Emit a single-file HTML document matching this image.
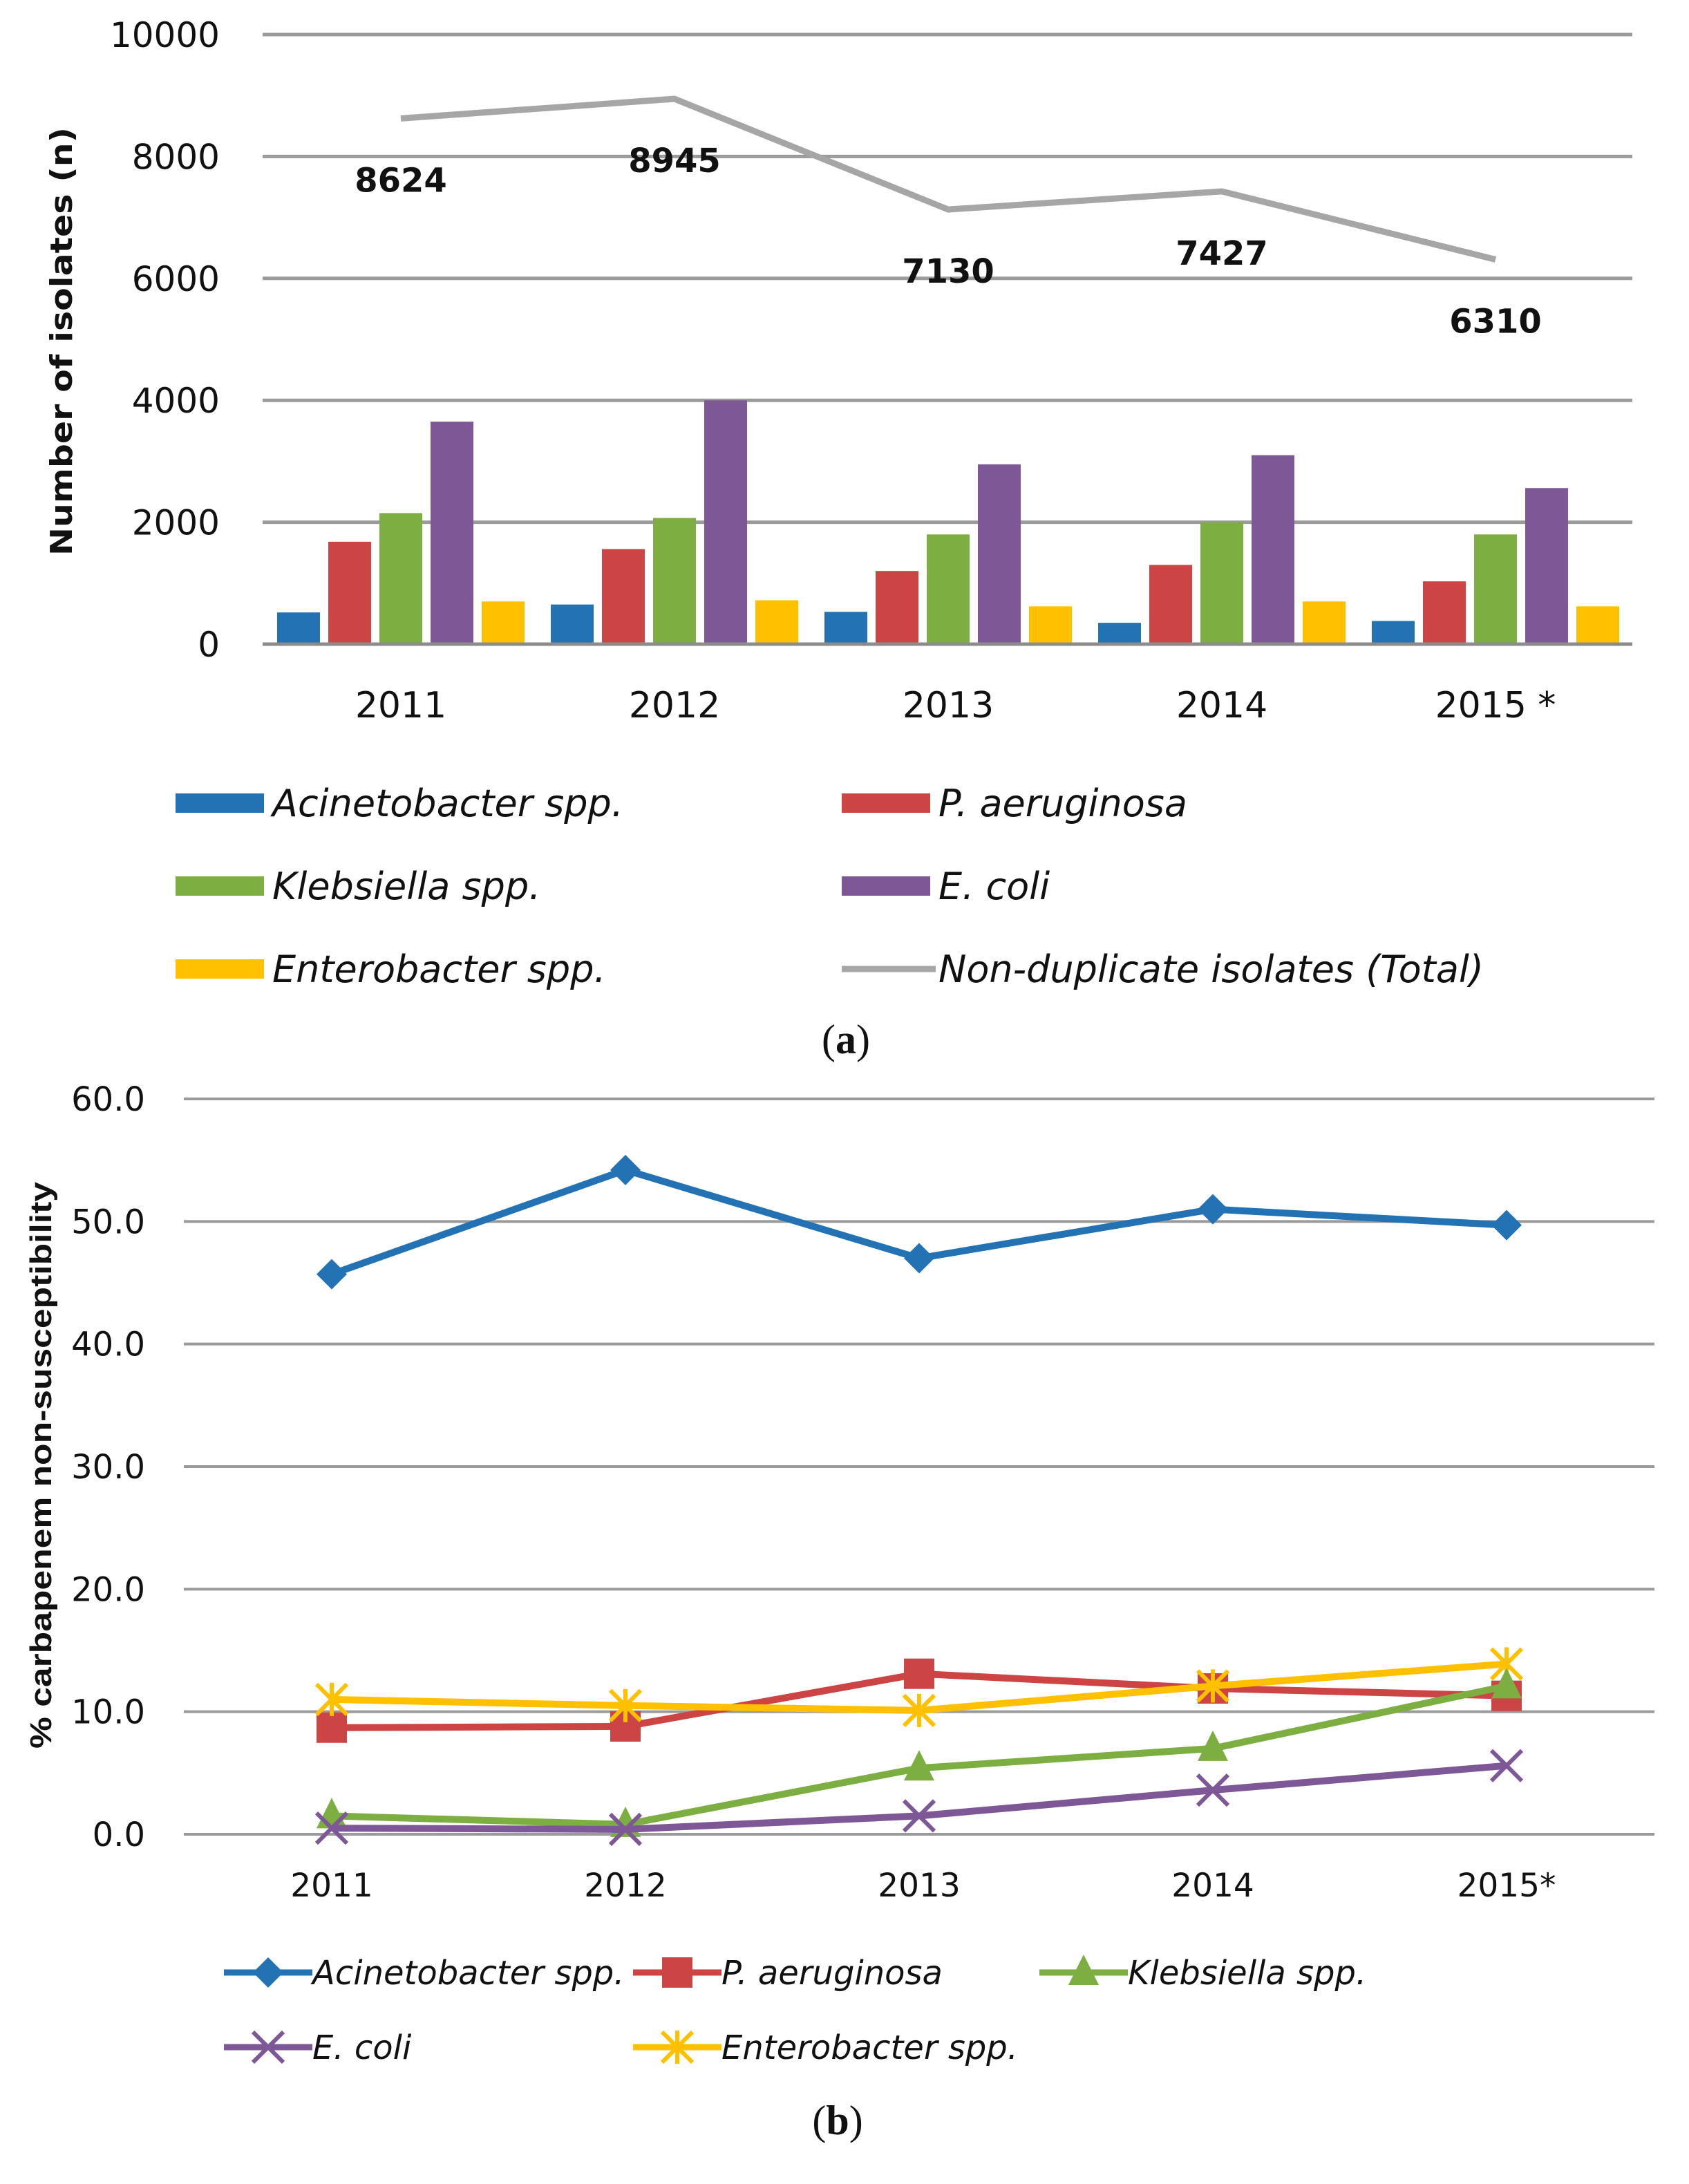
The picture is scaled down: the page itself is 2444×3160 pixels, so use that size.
<!DOCTYPE html>
<html><head><meta charset="utf-8">
<style>
html,body{margin:0;padding:0;background:#fff;}
svg{display:block;}
text{font-family:"DejaVu Sans","Liberation Sans",sans-serif;fill:#111;}
</style></head>
<body>
<svg id="fig" width="2444" height="3160" viewBox="0 0 2444 3160" xmlns="http://www.w3.org/2000/svg">
<g id="chartA"></g>
<g id="chartB"></g>
</svg>
<script>
const yearsA = ["2011","2012","2013","2014","2015 *"];
const acinA = [520, 650, 530, 350, 380];
const paerA = [1680, 1560, 1200, 1300, 1030];
const klebA = [2150, 2070, 1800, 2000, 1800];
const ecoliA = [3650, 4000, 2950, 3100, 2560];
const entA = [700, 720, 620, 700, 620];
const totalA = [8624, 8945, 7130, 7427, 6310];
const ticksA = [0, 2000, 4000, 6000, 8000, 10000];

const yearsB = ["2011","2012","2013","2014","2015*"];
const acinB = [45.7, 54.2, 47.0, 51.0, 49.7];
const paerB = [8.7, 8.8, 13.1, 11.9, 11.3];
const klebB = [1.5, 0.8, 5.4, 7.0, 12.1];
const ecoliB = [0.5, 0.4, 1.5, 3.6, 5.6];
const entB = [11.0, 10.5, 10.1, 12.1, 13.9];
const ticksB = [0, 10, 20, 30, 40, 50, 60];

const NS = "http://www.w3.org/2000/svg";
function mk(parent, tag, attrs, txt){
  const e = document.createElementNS(NS, tag);
  for (const k in attrs) e.setAttribute(k, attrs[k]);
  if (txt !== undefined) e.textContent = txt;
  parent.appendChild(e);
  return e;
}
const C = {blue:"#2272b4", red:"#cc4444", green:"#7dae42", purple:"#7e5896", yellow:"#ffc000", gray:"#a6a6a6", grid:"#9a9a9a"};

/* ---------- Chart A ---------- */
const A = document.getElementById("chartA");
const aL = 380, aR = 2362, aTop = 50, aBot = 932;
const yA = v => aBot - (v / 10000) * (aBot - aTop);
const xA = i => 580 + i * 396;
ticksA.forEach(t => {
  const g = mk(A, "line", {x1:aL, x2:aR, y1:yA(t), y2:yA(t), stroke:C.grid, "stroke-width":5});
  
  
  const tx = mk(A, "text", {x:318, y:yA(t)+18, "text-anchor":"end", "font-size":50}, String(t));
  
  
});
const yt = mk(A, "text", {x:0, y:0, transform:"translate(104,494) rotate(-90)", "text-anchor":"middle", "font-size":44, "font-weight":"bold", textLength:620, lengthAdjust:"spacingAndGlyphs"}, "Number of isolates (n)");


const seriesA = [[acinA,C.blue],[paerA,C.red],[klebA,C.green],[ecoliA,C.purple],[entA,C.yellow]];
yearsA.forEach((yr, i) => {
  seriesA.forEach((s, j) => {
    const v = s[0][i];
    const cx = xA(i) + (j - 2) * 74;
    const r = mk(A, "rect", {x:cx-31, y:yA(v), width:62, height:aBot - yA(v), fill:s[1]});
    
    
  });
  const xl = mk(A, "text", {x:xA(i), y:1038, "text-anchor":"middle", "font-size":52}, yr);
  
  
});
mk(A, "line", {x1:aL, x2:aR, y1:aBot, y2:aBot, stroke:"#8c8c8c", "stroke-width":5});
const pts = totalA.map((v,i)=>xA(i)+","+yA(v)).join(" ");
const tl = mk(A, "polyline", {points:pts, fill:"none", stroke:C.gray, "stroke-width":9, "stroke-linejoin":"round"});


totalA.forEach((v,i) => {
  const lb = mk(A, "text", {x:xA(i), y:yA(v)+106, "text-anchor":"middle", "font-size":48, "font-weight":"bold"}, String(v));
  
  
});
const legA = [
  ["Acinetobacter spp.", C.blue, 254, 1162, "rect"],
  ["P. aeruginosa", C.red, 1218, 1162, "rect"],
  ["Klebsiella spp.", C.green, 254, 1282, "rect"],
  ["E. coli", C.purple, 1218, 1282, "rect"],
  ["Enterobacter spp.", C.yellow, 254, 1402, "rect"],
  ["Non-duplicate isolates (Total)", C.gray, 1218, 1402, "line"]
];
legA.forEach(l => {
  const g = mk(A, "g", {});
  
  
  if (l[4] === "rect") mk(g, "rect", {x:l[2], y:l[3]-14, width:128, height:28, fill:l[1]});
  else mk(g, "line", {x1:l[2], x2:l[2]+136, y1:l[3], y2:l[3], stroke:l[1], "stroke-width":9});
  mk(g, "text", {x:l[2]+140, y:l[3]+19, "font-size":54, "font-style":"italic"}, l[0]);
});
const capA = mk(A, "text", {x:1224, y:1524, "text-anchor":"middle", "font-size":60, style:'font-family:"Liberation Serif",serif'});


capA.innerHTML = '(<tspan font-weight="bold">a</tspan>)';

/* ---------- Chart B ---------- */
const B = document.getElementById("chartB");
const bL = 266, bR = 2394, bTop = 1590, bBot = 2654;
const yB = v => bBot - (v / 60) * (bBot - bTop);
const xB = i => 480 + i * 425;
ticksB.forEach(t => {
  const g = mk(B, "line", {x1:bL, x2:bR, y1:yB(t), y2:yB(t), stroke:C.grid, "stroke-width":4});
  
  
  const tx = mk(B, "text", {x:210, y:yB(t)+17, "text-anchor":"end", "font-size":48}, t.toFixed(1));
  
  
});
const ytb = mk(B, "text", {x:0, y:0, transform:"translate(74,2120) rotate(-90)", "text-anchor":"middle", "font-size":44, textLength:820, lengthAdjust:"spacingAndGlyphs", style:'font-family:"Liberation Sans",sans-serif;font-weight:bold'}, "% carbapenem non-susceptibility");


yearsB.forEach((yr,i) => {
  const xl = mk(B, "text", {x:xB(i), y:2744, "text-anchor":"middle", "font-size":47}, yr);
  
  
});
function marker(g, type, x, y, col){
  const s = 22;
  if (type === "diamond") mk(g, "polygon", {points:`${x},${y-s} ${x+s},${y} ${x},${y+s} ${x-s},${y}`, fill:col});
  else if (type === "square") mk(g, "rect", {x:x-s, y:y-s, width:2*s, height:2*s, fill:col});
  else if (type === "tri") mk(g, "polygon", {points:`${x},${y-s-4} ${x+s},${y+s-4} ${x-s},${y+s-4}`, fill:col});
  else if (type === "x") {
    mk(g, "path", {d:`M${x-s} ${y-s}L${x+s} ${y+s}M${x+s} ${y-s}L${x-s} ${y+s}`, stroke:col, "stroke-width":6});
  } else if (type === "star") {
    mk(g, "path", {d:`M${x-s} ${y-s}L${x+s} ${y+s}M${x+s} ${y-s}L${x-s} ${y+s}M${x} ${y-s-2}L${x} ${y+s+2}`, stroke:col, "stroke-width":6});
  }
}
const seriesB = [
  ["Acinetobacter spp.", acinB, C.blue, "diamond"],
  ["P. aeruginosa", paerB, C.red, "square"],
  ["Enterobacter spp.", entB, C.yellow, "star"],
  ["Klebsiella spp.", klebB, C.green, "tri"],
  ["E. coli", ecoliB, C.purple, "x"]
];
seriesB.forEach(s => {
  const g = mk(B, "g", {});
  
  
  mk(g, "polyline", {points:s[1].map((v,i)=>xB(i)+","+yB(v)).join(" "), fill:"none", stroke:s[2], "stroke-width":10, "stroke-linejoin":"round"});
  s[1].forEach((v,i) => marker(g, s[3], xB(i), yB(v), s[2]));
});
const legB = [
  ["Acinetobacter spp.", C.blue, "diamond", 324, 2854],
  ["P. aeruginosa", C.red, "square", 916, 2854],
  ["Klebsiella spp.", C.green, "tri", 1504, 2854],
  ["E. coli", C.purple, "x", 324, 2962],
  ["Enterobacter spp.", C.yellow, "star", 916, 2962]
];
legB.forEach(l => {
  const g = mk(B, "g", {});
  
  
  mk(g, "line", {x1:l[3], x2:l[3]+128, y1:l[4], y2:l[4], stroke:l[1], "stroke-width":9});
  marker(g, l[2], l[3]+64, l[4], l[1]);
  mk(g, "text", {x:l[3]+128, y:l[4]+17, "font-size":48, "font-style":"italic"}, l[0]);
});
const capB = mk(B, "text", {x:1212, y:3088, "text-anchor":"middle", "font-size":60, style:'font-family:"Liberation Serif",serif'});


capB.innerHTML = '(<tspan font-weight="bold">b</tspan>)';
</script>
</body></html>
